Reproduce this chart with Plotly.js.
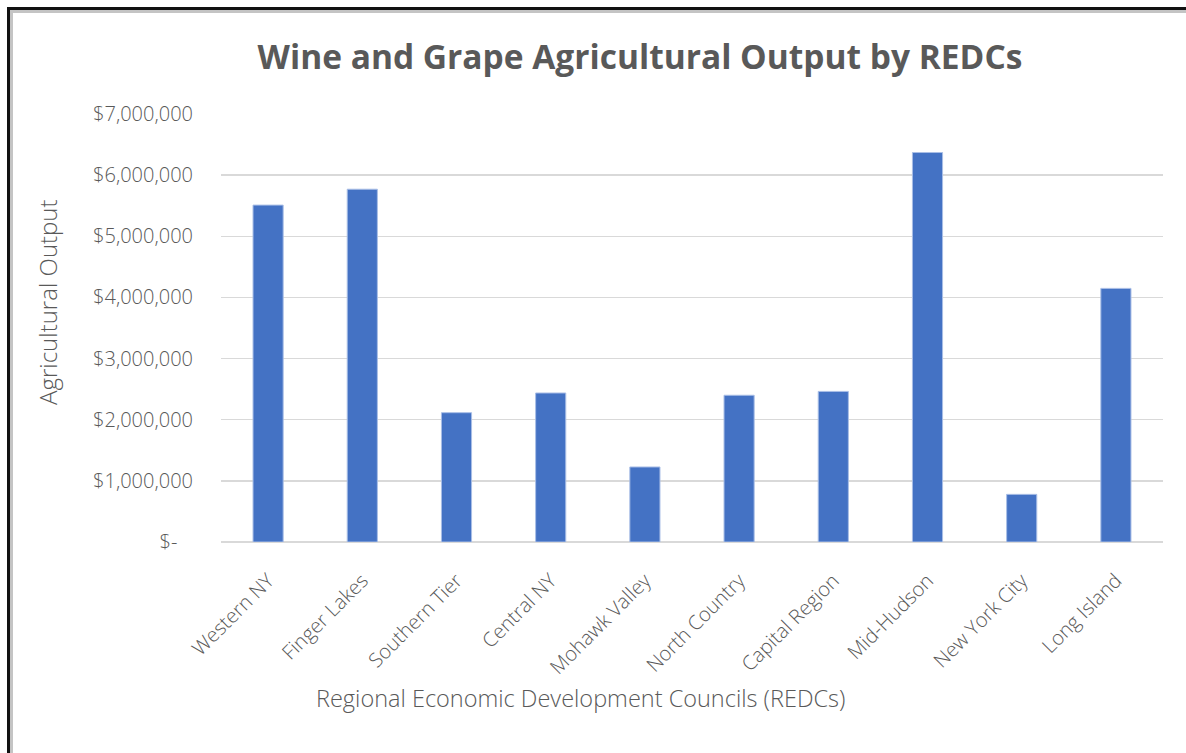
<!DOCTYPE html>
<html>
<head>
<meta charset="utf-8">
<script src="https://cdn.plot.ly/plotly-3.0.1.min.js"></script>
<style>
  body { margin: 0; background: #fff; }
  #wrap { position: relative; width: 1186px; height: 753px; overflow: hidden; background: #fff; }
  #chart { position: absolute; left: 0; top: 0; width: 1186px; height: 753px; }
  #frame { position: absolute; left: 7px; top: 7px; width: 1220px; height: 800px;
           border-left: 3px solid #111; border-top: 3px solid #111;
           box-shadow: inset 3px 3px 0 #c4c4c4; pointer-events: none; }
</style>
</head>
<body>
<div id="wrap">
  <div id="chart"></div>
  <div id="frame"></div>
</div>
<script>
// ---- data ----
const regions = ["Western NY", "Finger Lakes", "Southern Tier", "Central NY", "Mohawk Valley",
                 "North Country", "Capital Region", "Mid-Hudson", "New York City", "Long Island"];
const outputValues = [5510000, 5770000, 2115000, 2437000, 1227000,
                      2400000, 2463000, 6370000, 779000, 4148000];
const yTickValues = [0, 1000000, 2000000, 3000000, 4000000, 5000000, 6000000, 7000000];
const yTickLabels = ["$-\u00a0\u00a0\u00a0", "$1,000,000", "$2,000,000", "$3,000,000",
                     "$4,000,000", "$5,000,000", "$6,000,000", "$7,000,000"];
const chartTitle = "Wine and Grape Agricultural Output by REDCs";
const xTitle = "Regional Economic Development Councils (REDCs)";
const yTitle = "Agricultural Output";

const FONT = "Open Sans, Lato, sans-serif";
const GREY = "#595959";

const trace = {
  type: "bar",
  x: regions,
  y: outputValues,
  marker: { color: "#4472C4", line: { color: "#A9BEE6", width: 1 } },
  hoverinfo: "x+y"
};

const layout = {
  width: 1186,
  height: 753,
  paper_bgcolor: "#ffffff",
  plot_bgcolor: "#ffffff",
  margin: { l: 221, r: 23, t: 114, b: 211, pad: 0 },
  showlegend: false,
  bargap: 0.68,
  font: { family: FONT, color: GREY },
  title: {
    text: chartTitle,
    font: { family: FONT, size: 33.5, color: GREY, weight: "bold" },
    xref: "container", yref: "container",
    x: 640 / 1186, xanchor: "center",
    y: 1 - 57 / 753, yanchor: "middle"
  },
  xaxis: {
    type: "category",
    tickangle: -45,
    tickfont: { family: FONT, size: 20, color: GREY, weight: 300 },
    showgrid: false,
    showline: false,
    ticks: "",
    ticklabelstandoff: 22,
    fixedrange: true
  },
  yaxis: {
    range: [0, 7000000],
    tickmode: "array",
    tickvals: yTickValues,
    ticktext: yTickLabels,
    tickfont: { family: FONT, size: 20, color: GREY, weight: 300 },
    showgrid: true,
    gridcolor: "#D9D9D9",
    gridwidth: 1.3,
    zeroline: true,
    zerolinecolor: "#D9D9D9",
    zerolinewidth: 1.3,
    showline: false,
    ticks: "",
    ticklabelstandoff: 27,
    fixedrange: true
  },
  annotations: [
    {
      text: yTitle, textangle: -90,
      xref: "paper", yref: "paper",
      x: (47 - 221) / 942, y: (542 - 302) / 428,
      xanchor: "center", yanchor: "middle",
      showarrow: false,
      font: { family: FONT, size: 24, color: GREY, weight: 300 }
    },
    {
      text: xTitle,
      xref: "paper", yref: "paper",
      x: (580 - 221) / 942, y: (542 - 698) / 428,
      xanchor: "center", yanchor: "middle",
      showarrow: false,
      font: { family: FONT, size: 23.5, color: GREY, weight: 300 }
    }
  ]
};

Plotly.newPlot("chart", [trace], layout, { displayModeBar: false, staticPlot: true });
</script>
</body>
</html>
